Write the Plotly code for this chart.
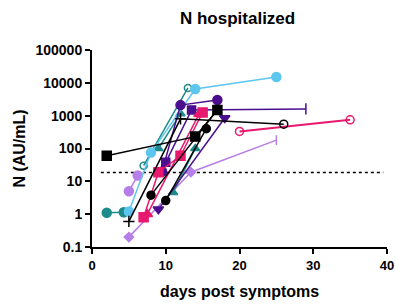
import plotly.graph_objects as go

# ---- data ----
cutoff_days = [1.2, 39.5]
cutoff_vals = [18.6, 18.6]

s_black_sq_x = [2, 14, 17]
s_black_sq_y = [60, 230, 1500]

s_black_plus_x = [5, 12, 26]
s_black_plus_y = [0.6, 800, 550]

s_black_dot_x = [8, 17]
s_black_dot_y = [3.8, 1500]

s_black_dot2_x = [10, 15.5]
s_black_dot2_y = [2.6, 400]

s_lblue_x = [5, 8, 14, 25]
s_lblue_y = [1.2, 75, 6500, 15000]

s_teal_dot_x = [2, 4.3]
s_teal_dot_y = [1.1, 1.15]

s_teal_open_x = [7, 13]
s_teal_open_y = [30, 7000]

s_teal_tri_x = [9, 12]
s_teal_tri_y = [100, 1150]

s_teal_tri2_x = [11, 14]
s_teal_tri2_y = [4.6, 100]

s_indigo_dot_x = [9.5, 12, 17]
s_indigo_dot_y = [20, 2100, 3000]

s_indigo_bar_x = [10, 13.5, 29]
s_indigo_bar_y = [38, 1500, 1600]

s_indigo_tri_x = [9, 18]
s_indigo_tri_y = [1.4, 850]

s_pink_sq_x = [7, 9, 12, 15]
s_pink_sq_y = [0.8, 19, 60, 1250]

s_pink_tri_x = [7.5, 14.5]
s_pink_tri_y = [1.0, 1100]

s_pink_open_x = [20, 35]
s_pink_open_y = [330, 750]

s_lpurple_dot_x = [5, 6.2]
s_lpurple_dot_y = [5, 15]

s_lpurple_dia_x = [5, 13.4, 25]
s_lpurple_dia_y = [0.2, 19, 180]

y_tickvals = [0.1, 1, 10, 100, 1000, 10000, 100000]
y_ticktext = ["0.1", "1", "10", "100", "1000", "10000", "100000"]
x_tickvals = [0, 10, 20, 30, 40]
x_ticktext = ["0", "10", "20", "30", "40"]

BLACK = "#000000"
LBLUE = "#5cc6ee"
TEAL = "#1f8a8a"
INDIGO = "#4a0e8f"
PINK = "#e8186e"
LPURPLE = "#b57ee8"

fig = go.Figure()

def add(x, y, color, symbol, size=8, width=1.5):
    fig.add_trace(go.Scatter(
        x=x, y=y, mode="lines+markers",
        line=dict(color=color, width=width),
        marker=dict(color=color, symbol=symbol, size=size,
                    line=dict(color=color, width=1.5)),
        showlegend=False))

fig.add_trace(go.Scatter(x=cutoff_days, y=cutoff_vals, mode="lines",
                         line=dict(color=BLACK, width=1.5, dash="dot"),
                         showlegend=False))

add(s_lpurple_dia_x, s_lpurple_dia_y, LPURPLE, ["diamond", "diamond", "line-ns"], 7)
add(s_lpurple_dot_x, s_lpurple_dot_y, LPURPLE, "circle", 9)
add(s_teal_tri_x, s_teal_tri_y, TEAL, "triangle-up", 8)
add(s_teal_tri2_x, s_teal_tri2_y, TEAL, "triangle-up", 8)
add(s_teal_open_x, s_teal_open_y, TEAL, "circle-open", 7)
add(s_teal_dot_x, s_teal_dot_y, TEAL, "circle", 9)
add(s_lblue_x, s_lblue_y, LBLUE, "circle", 9)
add(s_indigo_bar_x, s_indigo_bar_y, INDIGO, ["square", "square", "line-ns"], 8)
add(s_indigo_tri_x, s_indigo_tri_y, INDIGO, "triangle-down", 9)
add(s_indigo_dot_x, s_indigo_dot_y, INDIGO, "circle", 9)
add(s_pink_open_x, s_pink_open_y, PINK, "circle-open", 8, 2)
add(s_pink_tri_x, s_pink_tri_y, PINK, "triangle-up", 9)
add(s_pink_sq_x, s_pink_sq_y, PINK, "square", 9)
add(s_black_dot2_x, s_black_dot2_y, BLACK, "circle", 8)
add(s_black_dot_x, s_black_dot_y, BLACK, "circle", 8)
add(s_black_plus_x, s_black_plus_y, BLACK, ["cross-thin", "cross-thin", "circle-open"], 8, 1.5)
add(s_black_sq_x, s_black_sq_y, BLACK, "square", 9)

font_fam = "Liberation Sans, Arial, sans-serif"

fig.update_layout(
    width=396, height=308,
    margin=dict(l=92, r=9, t=50, b=61, autoexpand=False),
    paper_bgcolor="white", plot_bgcolor="white",
    font=dict(family=font_fam, color="black"),
    title=dict(text="<b>N hospitalized</b>", x=0.6, xanchor="center",
               y=0.94, yanchor="middle", font=dict(size=17)),
    xaxis=dict(range=[0, 40], tickvals=x_tickvals,
               ticktext=["<b>%s</b>" % t for t in x_ticktext],
               ticks="outside", ticklen=5, tickwidth=2, tickcolor="black",
               showline=True, linewidth=2, linecolor="black",
               showgrid=False, zeroline=False, automargin=False,
               ticklabeloverflow="allow",
               tickfont=dict(size=13, family=font_fam)),
    yaxis=dict(type="log", range=[-1, 5], tickvals=y_tickvals,
               ticktext=["<b>%s</b>" % t for t in y_ticktext],
               ticks="outside", ticklen=5, tickwidth=2, tickcolor="black",
               showline=True, linewidth=2, linecolor="black",
               showgrid=False, zeroline=False, automargin=False,
               tickfont=dict(size=14, family=font_fam),
               title=dict(text="<b>N (AU/mL)</b>", font=dict(size=16), standoff=6)),
)
fig.add_annotation(x=0.5, y=0, xref="paper", yref="paper", yanchor="top",
                   yshift=-34, text="<b>days post symptoms</b>", showarrow=False,
                   font=dict(size=16, family=font_fam, color="black"))

fig.write_html("out.html",
               config={"displayModeBar": False},
               post_script="document.body.style.margin='0';document.body.style.padding='0';")
